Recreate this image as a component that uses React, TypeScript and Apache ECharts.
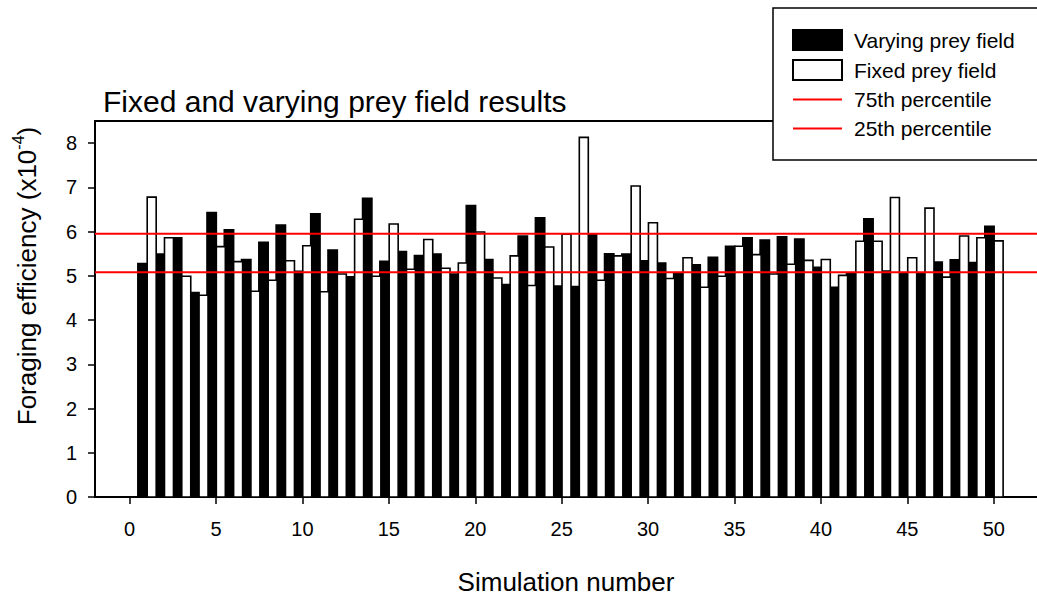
import React, { useEffect, useRef } from "react";
import * as echarts from "echarts";

const simulations = [
  1, 2, 3, 4, 5, 6, 7, 8, 9, 10, 11, 12, 13, 14, 15, 16, 17, 18, 19, 20, 21, 22, 23, 24, 25,
  26, 27, 28, 29, 30, 31, 32, 33, 34, 35, 36, 37, 38, 39, 40, 41, 42, 43, 44, 45, 46, 47, 48, 49, 50,
];

const varyingPrey = [
  5.28, 5.49, 5.86, 4.62, 6.43, 6.04, 5.37, 5.76, 6.15, 5.1,
  6.4, 5.58, 4.98, 6.75, 5.33, 5.55, 5.46, 5.49, 5.04, 6.59,
  5.37, 4.8, 5.9, 6.31, 4.77, 4.76, 5.93, 5.5, 5.49, 5.34,
  5.29, 5.07, 5.25, 5.42, 5.67, 5.86, 5.81, 5.88, 5.83, 5.19,
  4.74, 5.07, 6.29, 5.11, 5.07, 5.07, 5.31, 5.36, 5.3, 6.12,
];

const fixedPrey = [
  6.78, 5.86, 4.99, 4.56, 5.66, 5.32, 4.65, 4.9, 5.34, 5.68,
  4.64, 5.04, 6.28, 4.99, 6.17, 5.15, 5.82, 5.17, 5.29, 5.99,
  4.95, 5.45, 4.78, 5.65, 5.94, 8.13, 4.9, 5.45, 7.03, 6.2,
  4.94, 5.41, 4.74, 4.99, 5.67, 5.48, 5.04, 5.26, 5.35, 5.37,
  5.01, 5.78, 5.78, 6.77, 5.41, 6.53, 4.97, 5.9, 5.86, 5.79,
];

const percentile75 = 5.95;
const percentile25 = 5.08;

const xTicks = [0, 5, 10, 15, 20, 25, 30, 35, 40, 45, 50];
const yTicks = [0, 1, 2, 3, 4, 5, 6, 7, 8];
const xMin = -2;
const xMax = 52.5;
const yMin = 0;
const yMax = 8.5;

const FONT = "'Liberation Sans', Arial, Helvetica, sans-serif";
const LINE_ICON = "path://M0,0H49V2H0Z";

function makeBarRenderer(left: number, right: number, fill: string) {
  return (_params: any, api: any) => {
    const n = api.value(0);
    const v = api.value(1);
    const p0 = api.coord([n + left, v]);
    const p1 = api.coord([n + right, 0]);
    return {
      type: "rect",
      shape: { x: p0[0], y: p0[1], width: p1[0] - p0[0], height: p1[1] - p0[1] },
      style: { fill, stroke: "#000", lineWidth: 1.6 },
    };
  };
}

export default function App() {
  const ref = useRef<HTMLDivElement>(null);

  useEffect(() => {
    if (!ref.current) return;
    const chart = echarts.init(ref.current, undefined, { renderer: "svg" });
    const option: any = {
      animation: false,
      backgroundColor: "#fff",
      textStyle: { fontFamily: FONT, color: "#000" },
      title: {
        text: "Fixed and varying prey field results",
        left: 103,
        top: 86,
        padding: 0,
        textStyle: { fontFamily: FONT, fontSize: 30, fontWeight: "normal", color: "#000" },
      },
      legend: {
        orient: "vertical",
        left: 773,
        top: 8,
        padding: [21, 60, 21, 19],
        itemWidth: 49,
        itemHeight: 20,
        itemGap: 8,
        backgroundColor: "#fff",
        borderColor: "#000",
        borderWidth: 1.5,
        borderRadius: 0,
        textStyle: { fontFamily: FONT, fontSize: 21, color: "#000", padding: [0, 0, 0, 7] },
        data: [
          { name: "Varying prey field", icon: "rect" },
          { name: "Fixed prey field", icon: "rect" },
          { name: "75th percentile", icon: LINE_ICON, itemStyle: { color: "#ff0000", borderWidth: 0 } },
          { name: "25th percentile", icon: LINE_ICON, itemStyle: { color: "#ff0000", borderWidth: 0 } },
        ],
        z: 10,
      },
      grid: { left: 95, right: 0, top: 121, bottom: 99, containLabel: false },
      xAxis: [
        {
          type: "value",
          min: xMin,
          max: xMax,
          position: "bottom",
          splitLine: { show: false },
          axisLine: { show: true, onZero: false, lineStyle: { color: "#000", width: 2 } },
          axisTick: { show: true, inside: false, length: 7, customValues: xTicks, lineStyle: { color: "#000", width: 1.5 } },
          axisLabel: { customValues: xTicks, margin: 22, fontSize: 20, color: "#000", fontFamily: FONT },
          name: "Simulation number",
          nameLocation: "middle",
          nameGap: 72,
          nameTextStyle: { fontSize: 26, color: "#000", fontFamily: FONT },
        },
        {
          type: "value",
          min: xMin,
          max: xMax,
          position: "top",
          splitLine: { show: false },
          axisLine: { show: true, onZero: false, lineStyle: { color: "#000", width: 2 } },
          axisTick: { show: false },
          axisLabel: { show: false },
        },
      ],
      yAxis: {
        type: "value",
        min: yMin,
        max: yMax,
        splitLine: { show: false },
        axisLine: { show: true, onZero: false, lineStyle: { color: "#000", width: 2 } },
        axisTick: { show: true, inside: false, length: 7, customValues: yTicks, lineStyle: { color: "#000", width: 1.5 } },
        axisLabel: { customValues: yTicks, margin: 18, fontSize: 20, color: "#000", fontFamily: FONT },
      },
      graphic: [
        {
          type: "text",
          x: 25,
          y: 276,
          rotation: Math.PI / 2,
          style: {
            text: "{m|Foraging efficiency (x10}{s|-4}{m|)}",
            align: "center",
            verticalAlign: "middle",
            fill: "#000",
            rich: {
              m: { fontSize: 26, fontFamily: FONT, fill: "#000", lineHeight: 30, verticalAlign: "bottom" },
              s: { fontSize: 16, fontFamily: FONT, fill: "#000", lineHeight: 18, verticalAlign: "top" },
            },
          },
        },
      ],
      series: [
        {
          name: "Varying prey field",
          type: "custom",
          xAxisIndex: 0,
          yAxisIndex: 0,
          itemStyle: { color: "#000", borderColor: "#000", borderWidth: 1.5 },
          encode: { x: 0, y: 1 },
          data: simulations.map((s, i) => [s, varyingPrey[i]]),
          renderItem: makeBarRenderer(-0.52, 0.02, "#000"),
          z: 2,
        },
        {
          name: "Fixed prey field",
          type: "custom",
          xAxisIndex: 0,
          yAxisIndex: 0,
          itemStyle: { color: "#fff", borderColor: "#000", borderWidth: 2 },
          encode: { x: 0, y: 1 },
          data: simulations.map((s, i) => [s, fixedPrey[i]]),
          renderItem: makeBarRenderer(0.02, 0.54, "#fff"),
          z: 2,
        },
        {
          name: "75th percentile",
          type: "line",
          symbol: "none",
          showSymbol: false,
          lineStyle: { color: "#ff0000", width: 2 },
          itemStyle: { color: "#ff0000" },
          data: [
            [xMin, percentile75],
            [xMax, percentile75],
          ],
          z: 5,
        },
        {
          name: "25th percentile",
          type: "line",
          symbol: "none",
          showSymbol: false,
          lineStyle: { color: "#ff0000", width: 2 },
          itemStyle: { color: "#ff0000" },
          data: [
            [xMin, percentile25],
            [xMax, percentile25],
          ],
          z: 5,
        },
      ],
    };
    chart.setOption(option);
    return () => chart.dispose();
  }, []);

  return (
    <div
      ref={ref}
      style={{ position: "fixed", left: 0, top: 0, width: 1037, height: 600, background: "#fff" }}
    />
  );
}
